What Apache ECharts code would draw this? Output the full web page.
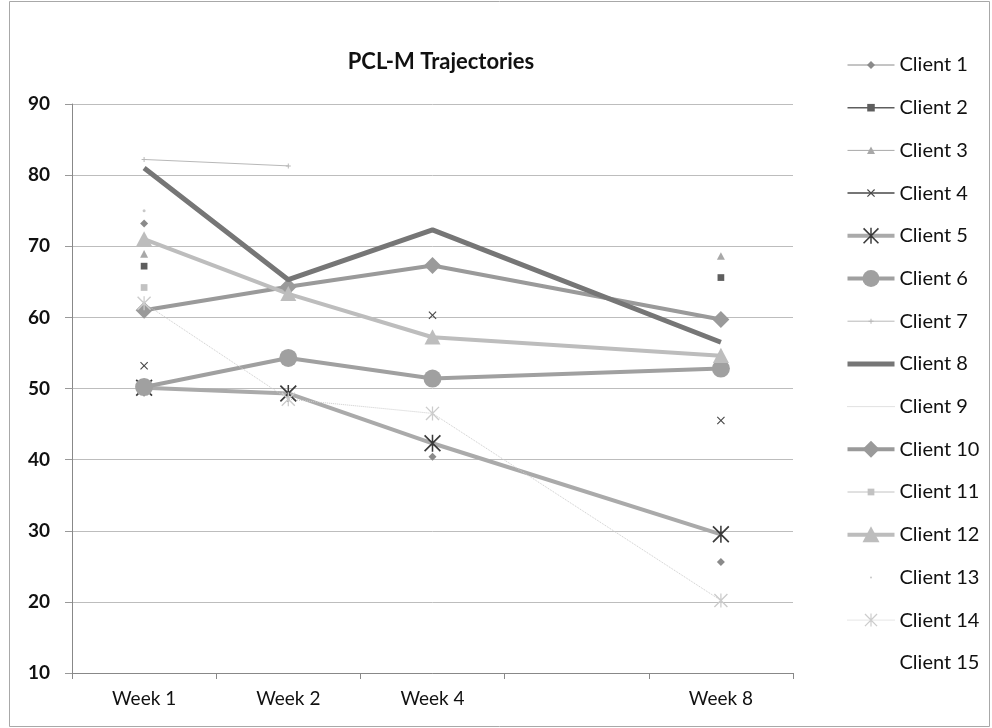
<!DOCTYPE html>
<html>
<head>
<meta charset="utf-8">
<script src="https://cdn.jsdelivr.net/npm/echarts@6/dist/echarts.min.js"></script>
<style>
html,body{margin:0;padding:0;background:#fff;}
#chart{width:992px;height:728px;}
</style>
</head>
<body>
<div id="chart"></div>
<script>
// ---- data ----
var categories = ['Week 1', 'Week 2', 'Week 4', '', 'Week 8'];
var yTicks = [10, 20, 30, 40, 50, 60, 70, 80, 90];
var clientNames = ['Client 1','Client 2','Client 3','Client 4','Client 5','Client 6','Client 7','Client 8',
                   'Client 9','Client 10','Client 11','Client 12','Client 13','Client 14','Client 15'];
var client1  = [73.2, null, 40.4, null, 25.6];
var client2  = [67.2, null, null, null, 65.6];
var client3  = [68.9, null, null, null, 68.6];
var client4  = [53.2, null, 60.3, null, 45.5];
var client5  = [50.1, 49.3, 42.3, null, 29.5];
var client6  = [50.2, 54.3, 51.4, null, 52.8];
var client7  = [82.2, 81.3, null, null, null];
var client8  = [81.0, 65.3, 72.3, null, 56.5];
var client9  = [null, null, null, null, null];
var client10 = [61.0, 64.3, 67.3, null, 59.7];
var client11 = [64.2, null, null, null, null];
var client12 = [71.0, 63.3, 57.2, null, 54.6];
var client13 = [75.0, null, null, null, null];
var client14 = [62.0, 48.5, 46.5, null, 20.2];
var client15 = [null, null, null, null, null];
var clientData = [client1,client2,client3,client4,client5,client6,client7,client8,
                  client9,client10,client11,client12,client13,client14,client15];

// ---- marker shapes (drawn in a 0..10 box) ----
var SHAPES = {
  diamond: 'M5,0L10,5L5,10L0,5Z',
  rect: 'M0.8,0.8L9.2,0.8L9.2,9.2L0.8,9.2Z',
  triangle: 'M5,0L10,9.5L0,9.5Z',
  circle: 'M0,5A5,5 0 1,1 10,5A5,5 0 1,1 0,5Z',
  x: 'M0,1L1,0L5,4L9,0L10,1L6,5L10,9L9,10L5,6L1,10L0,9L4,5Z',
  ast: 'M0.7,0L10,9.3L9.3,10L0,0.7Z M9.3,0L10,0.7L0.7,10L0,9.3Z M4.55,0L5.45,0L5.45,10L4.55,10Z',
  plus: 'M4,0L6,0L6,4L10,4L10,6L6,6L6,10L4,10L4,6L0,6L0,4L4,4Z',
  none: 'M0,0M1,1'
};
// legend symbol box = 0.8 * itemHeight; shapes are padded so that the visible
// part has the wanted size both in the legend and on the plot.
var LEG_ITEM_H = 22;
var LEG_SYM = LEG_ITEM_H * 0.8;
function sym(shape, legendPx) {
  var box = 10 * LEG_SYM / legendPx;
  var a = (box - 10) / 2;
  var pad = a > 0.001 ? ('M' + (-a) + ',' + (-a) + 'M' + (10 + a) + ',' + (10 + a)) : '';
  return {path: 'path://' + pad + SHAPES[shape], scale: box / 10};
}

var styles = [
  {color:'#8a8a8a', width:1,   shape:'diamond', leg:8,  plot:8,  connect:false},
  {color:'#5e5e5e', width:1.5, shape:'rect',    leg:9,  plot:8,  connect:false},
  {color:'#a8a8a8', width:1,   shape:'triangle',leg:8,  plot:8,  connect:false},
  {color:'#484848', width:1.5, shape:'x',       leg:8,  plot:8,  connect:false},
  {color:'#aaaaaa', width:4,   shape:'ast',     leg:16, plot:17, connect:true, symColor:'#3a3a3a'},
  {color:'#a0a0a0', width:4,   shape:'circle',  leg:17, plot:18, connect:true},
  {color:'#b8b8b8', width:1,   shape:'plus',    leg:5,  plot:5,  connect:false},
  {color:'#767676', width:5,   shape:'none',    leg:10, plot:0,  connect:true},
  {color:'#c4c4c4', width:1,   shape:'none',    leg:10, plot:0,  connect:true, type:'dotted'},
  {color:'#9a9a9a', width:4,   shape:'diamond', leg:17, plot:17, connect:true},
  {color:'#c2c2c2', width:1,   shape:'rect',    leg:8,  plot:8,  connect:false},
  {color:'#bdbdbd', width:4,   shape:'triangle',leg:17, plot:16, connect:true},
  {color:'#c8c8c8', width:0,   shape:'circle',  leg:2,  plot:3,  connect:false},
  {color:'#cccccc', width:1,   shape:'ast',     leg:13, plot:14, connect:true, type:'dotted'},
  {color:'rgba(255,255,255,0)', width:0, shape:'none', leg:10, plot:0, connect:false}
];

var series = clientNames.map(function(name, i){
  var s = styles[i];
  var sm = sym(s.shape, s.leg);
  var hasSym = s.shape !== 'none';
  return {
    name: name,
    type: 'line',
    data: clientData[i],
    connectNulls: s.connect,
    symbol: sm.path,
    symbolSize: hasSym ? s.plot * sm.scale : 1,
    showSymbol: hasSym,
    animation: false,
    z: 2 + (i === 7 ? 1 : 0),
    lineStyle: {color: s.color, width: s.width, type: s.type || 'solid'},
    itemStyle: {color: s.symColor || s.color},
    emphasis: {disabled: true}
  };
});

var legendData = clientNames.map(function(name, i){
  return {name: name, lineStyle: {width: styles[i].width, type: styles[i].type || 'solid'}};
});

var chart = echarts.init(document.getElementById('chart'));
chart.setOption({
  backgroundColor: '#ffffff',
  animation: false,
  title: {
    text: 'PCL-M Trajectories',
    left: 436, top: 46, textAlign: 'center',
    textStyle: {fontFamily: 'Lato', fontSize: 22, fontWeight: 'bold', color: '#111'}
  },
  legend: {
    orient: 'vertical',
    left: 840, top: 50,
    itemWidth: 47, itemHeight: LEG_ITEM_H, itemGap: 22.7,
    data: legendData,
    textStyle: {fontFamily: 'Lato', fontSize: 20, color: '#111', lineHeight: 20},
    selectedMode: false
  },
  grid: {left: 72, right: 199, top: 104, bottom: 55, containLabel: false},
  xAxis: {
    type: 'category',
    data: categories,
    boundaryGap: true,
    axisLine: {show: true, lineStyle: {color: '#888', width: 1}},
    axisTick: {show: true, length: 6, lineStyle: {color: '#888'}},
    axisLabel: {fontFamily: 'Lato', fontSize: 19, color: '#111', margin: 16, interval: 0},
    splitLine: {show: false}
  },
  yAxis: {
    type: 'value',
    min: yTicks[0], max: yTicks[yTicks.length - 1], interval: 10,
    axisLine: {show: true, lineStyle: {color: '#888', width: 1}},
    axisTick: {show: true, length: 7, lineStyle: {color: '#999'}},
    axisLabel: {fontFamily: 'Lato', fontSize: 19, fontWeight: 'bold', color: '#111', margin: 22},
    splitLine: {show: true, lineStyle: {color: '#bdbdbd', width: 1}}
  },
  graphic: [{
    type: 'rect', silent: true,
    shape: {x: 9.5, y: 1.5, width: 980, height: 725},
    style: {fill: 'none', stroke: '#a8a8a8', lineWidth: 1}
  }],
  series: series
});
</script>
</body>
</html>
